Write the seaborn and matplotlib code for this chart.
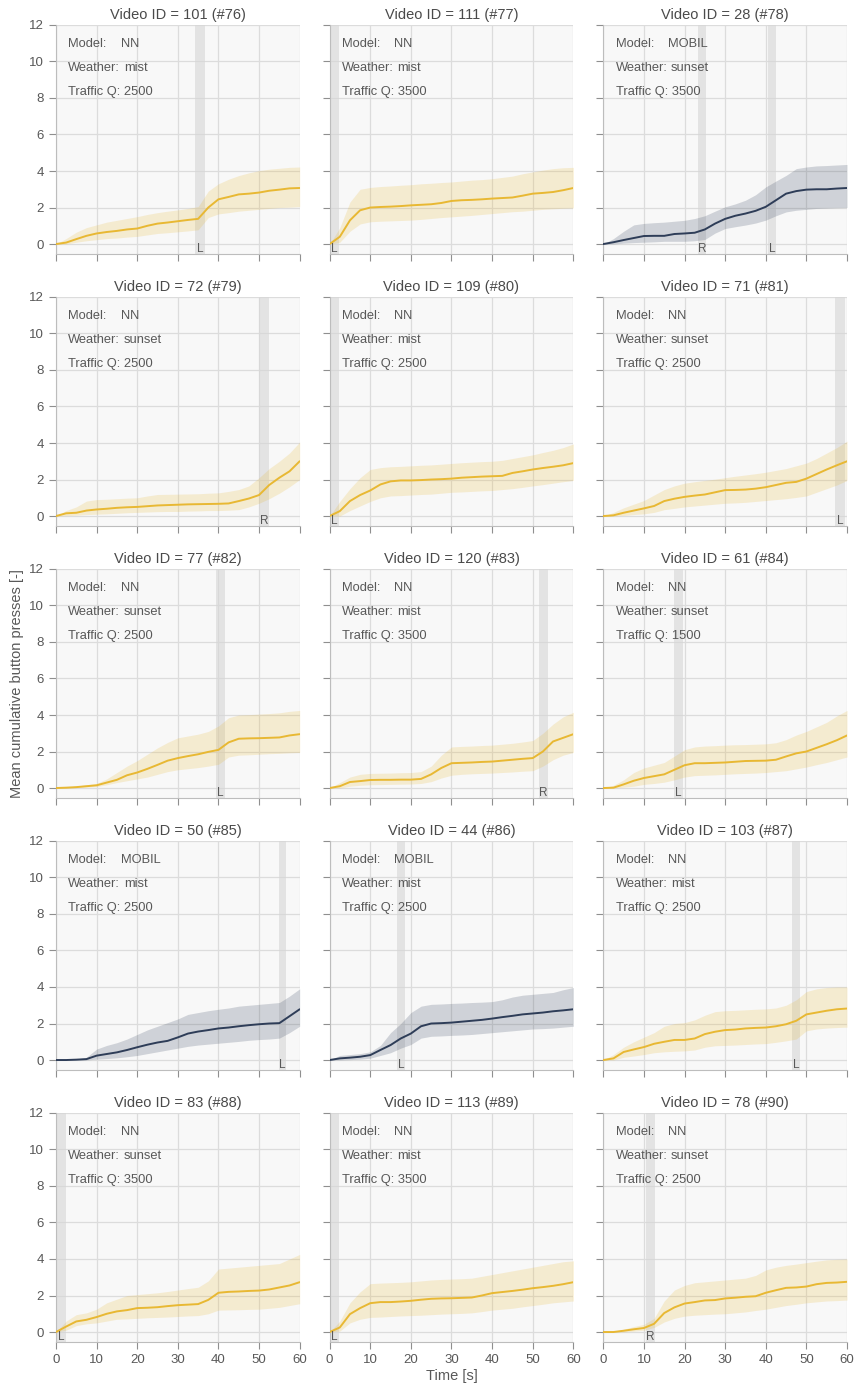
import numpy as np
import pandas as pd
import matplotlib
matplotlib.use("Agg")
import matplotlib.pyplot as plt
import matplotlib.transforms as mtransforms
import seaborn as sns

# Time grid (s) shared by all videos
time_s = [0, 2.5, 5, 7.5, 10, 12.5, 15, 17.5, 20, 22.5, 25, 27.5, 30,
          32.5, 35, 37.5, 40, 42.5, 45, 47.5, 50, 52.5, 55, 57.5, 60]

video_ids = [101, 111, 28, 72, 109, 71, 77, 120, 61, 50, 44, 103, 83, 113, 78]
video_nums = list(range(76, 91))
models = ["NN", "NN", "MOBIL", "NN", "NN", "NN", "NN", "NN", "NN",
          "MOBIL", "MOBIL", "NN", "NN", "NN", "NN"]
weathers = ["mist", "mist", "sunset", "sunset", "mist", "sunset", "sunset", "mist",
            "sunset", "mist", "mist", "mist", "sunset", "mist", "sunset"]
traffic_q = [2500, 3500, 3500, 2500, 2500, 2500, 2500, 3500, 1500,
             2500, 2500, 2500, 3500, 3500, 2500]

# Mean cumulative presses per video
mean_presses = [
    [0, .08, .27, .45, .58, .66, .72, .80, .85, 1.0, 1.12, 1.18, 1.25, 1.32, 1.38, 2.0, 2.45, 2.58, 2.72, 2.76, 2.82, 2.92, 2.98, 3.05, 3.07],
    [0, .4, 1.3, 1.85, 2.0, 2.03, 2.05, 2.08, 2.12, 2.15, 2.18, 2.25, 2.36, 2.4, 2.42, 2.45, 2.49, 2.52, 2.55, 2.65, 2.76, 2.8, 2.85, 2.95, 3.07],
    [0, .1, .22, .33, .44, .45, .45, .55, .58, .62, .8, 1.12, 1.38, 1.55, 1.67, 1.82, 2.04, 2.4, 2.76, 2.9, 2.98, 3.0, 3.0, 3.04, 3.07],
    [0, .15, .18, .3, .36, .4, .45, .48, .5, .54, .58, .6, .62, .64, .65, .66, .67, .69, .82, .96, 1.15, 1.7, 2.1, 2.45, 3.0],
    [0, .27, .82, 1.15, 1.4, 1.73, 1.9, 1.95, 1.95, 1.97, 2.0, 2.02, 2.05, 2.1, 2.13, 2.16, 2.18, 2.2, 2.36, 2.45, 2.55, 2.63, 2.7, 2.78, 2.9],
    [0, .04, .18, .3, .42, .55, .82, .95, 1.05, 1.12, 1.18, 1.3, 1.42, 1.43, 1.45, 1.5, 1.58, 1.7, 1.82, 1.87, 2.05, 2.3, 2.55, 2.78, 3.0],
    [0, .02, .05, .1, .15, .3, .45, .7, .85, 1.05, 1.27, 1.5, 1.64, 1.75, 1.85, 1.98, 2.09, 2.5, 2.7, 2.72, 2.73, 2.75, 2.77, 2.88, 2.95],
    [0, .1, .33, .38, .44, .45, .45, .46, .46, .5, .75, 1.1, 1.36, 1.38, 1.4, 1.43, 1.45, 1.5, 1.55, 1.6, 1.64, 2.0, 2.55, 2.75, 2.95],
    [0, .02, .2, .4, .55, .65, .75, 1.0, 1.25, 1.36, 1.36, 1.38, 1.4, 1.44, 1.48, 1.49, 1.5, 1.55, 1.73, 1.9, 2.0, 2.2, 2.4, 2.62, 2.88],
    [0, 0, .02, .05, .24, .33, .42, .55, .7, .84, .96, 1.05, 1.24, 1.45, 1.56, 1.64, 1.73, 1.78, 1.85, 1.91, 1.96, 2.0, 2.02, 2.4, 2.78],
    [0, .09, .13, .18, .27, .55, .82, 1.18, 1.45, 1.85, 2.0, 2.02, 2.05, 2.1, 2.15, 2.2, 2.27, 2.35, 2.42, 2.5, 2.55, 2.6, 2.67, 2.72, 2.78],
    [0, .09, .44, .58, .71, .89, 1.0, 1.1, 1.1, 1.18, 1.42, 1.55, 1.64, 1.67, 1.73, 1.76, 1.78, 1.85, 1.96, 2.15, 2.5, 2.6, 2.7, 2.78, 2.82],
    [0, .3, .58, .67, .82, 1.0, 1.13, 1.2, 1.31, 1.33, 1.36, 1.42, 1.47, 1.5, 1.53, 1.76, 2.15, 2.2, 2.22, 2.25, 2.27, 2.33, 2.44, 2.55, 2.73],
    [0, .25, .98, 1.31, 1.58, 1.64, 1.64, 1.67, 1.71, 1.77, 1.82, 1.84, 1.85, 1.87, 1.89, 2.0, 2.13, 2.19, 2.25, 2.32, 2.4, 2.46, 2.53, 2.62, 2.73],
    [0, 0, .07, .15, .22, .45, 1.04, 1.35, 1.56, 1.64, 1.73, 1.75, 1.84, 1.88, 1.93, 1.96, 2.15, 2.29, 2.42, 2.44, 2.49, 2.62, 2.69, 2.71, 2.75],
]

# Upper bound of the 95% confidence band
ci_upper = [
    [0, .3, .65, .9, 1.05, 1.2, 1.3, 1.4, 1.5, 1.62, 1.72, 1.8, 1.87, 1.95, 2.05, 2.9, 3.3, 3.55, 3.75, 3.9, 4.02, 4.1, 4.15, 4.2, 4.22],
    [0, .9, 2.3, 3.0, 3.1, 3.15, 3.18, 3.22, 3.25, 3.3, 3.33, 3.37, 3.4, 3.45, 3.5, 3.53, 3.58, 3.65, 3.72, 3.85, 3.95, 4.05, 4.13, 4.18, 4.2],
    [0, .3, .7, 1.05, 1.13, 1.17, 1.2, 1.25, 1.3, 1.4, 1.55, 1.8, 2.04, 2.2, 2.4, 2.7, 3.13, 3.45, 3.76, 4.13, 4.22, 4.28, 4.3, 4.33, 4.36],
    [0, .3, .5, .82, .9, .92, .95, .98, 1.0, 1.1, 1.18, 1.19, 1.2, 1.21, 1.22, 1.25, 1.27, 1.35, 1.45, 1.65, 2.1, 2.6, 3.0, 3.45, 4.05],
    [0, .8, 1.5, 2.1, 2.55, 2.65, 2.7, 2.72, 2.75, 2.78, 2.8, 2.84, 2.88, 2.92, 2.95, 2.98, 3.0, 3.05, 3.15, 3.25, 3.35, 3.48, 3.6, 3.75, 3.95],
    [0, .2, .45, .65, .85, 1.15, 1.45, 1.65, 1.8, 1.88, 1.95, 2.02, 2.1, 2.18, 2.25, 2.32, 2.4, 2.5, 2.6, 2.75, 2.9, 3.15, 3.45, 3.75, 4.1],
    [0, .05, .1, .18, .25, .5, .85, 1.2, 1.5, 1.85, 2.2, 2.5, 2.75, 2.85, 2.95, 3.1, 3.4, 3.85, 4.0, 4.02, 4.05, 4.08, 4.12, 4.2, 4.25],
    [0, .3, .6, .75, .8, .81, .82, .84, .85, .9, 1.2, 1.8, 2.25, 2.28, 2.3, 2.33, 2.35, 2.4, 2.45, 2.52, 2.6, 3.0, 3.5, 3.9, 4.15],
    [0, .15, .45, .85, 1.1, 1.25, 1.4, 1.75, 2.1, 2.25, 2.3, 2.32, 2.35, 2.37, 2.38, 2.4, 2.42, 2.48, 2.65, 2.9, 3.1, 3.35, 3.6, 3.95, 4.25],
    [0, 0, .05, .15, .6, .8, .95, 1.15, 1.4, 1.65, 1.85, 2.05, 2.25, 2.5, 2.6, 2.7, 2.78, 2.85, 2.95, 3.0, 3.05, 3.1, 3.15, 3.5, 3.9],
    [0, .25, .3, .35, .45, .8, 1.5, 2.0, 2.6, 2.95, 3.05, 3.07, 3.1, 3.12, 3.15, 3.17, 3.2, 3.3, 3.45, 3.55, 3.6, 3.65, 3.7, 3.85, 3.97],
    [0, .3, .7, 1.0, 1.25, 1.5, 1.85, 2.0, 2.05, 2.2, 2.45, 2.65, 2.7, 2.72, 2.75, 2.78, 2.8, 2.85, 3.0, 3.3, 3.75, 3.9, 3.97, 4.0, 4.0],
    [0, .6, .95, 1.05, 1.25, 1.6, 1.8, 2.0, 2.05, 2.1, 2.15, 2.22, 2.3, 2.38, 2.45, 2.8, 3.45, 3.5, 3.55, 3.6, 3.65, 3.7, 3.75, 4.0, 4.25],
    [0, .6, 1.6, 2.2, 2.65, 2.68, 2.7, 2.72, 2.75, 2.8, 2.85, 2.88, 2.9, 2.92, 2.95, 3.05, 3.15, 3.25, 3.35, 3.45, 3.55, 3.65, 3.75, 3.85, 3.9],
    [0, .05, .15, .3, .42, .75, 1.7, 2.3, 2.55, 2.7, 2.75, 2.8, 2.85, 2.9, 2.95, 3.1, 3.4, 3.55, 3.65, 3.72, 3.8, 3.88, 3.95, 3.98, 4.0],
]

# Lower bound of the 95% confidence band
ci_lower = [
    [0, 0, .1, .18, .24, .3, .33, .38, .42, .5, .58, .62, .67, .72, .78, 1.45, 1.65, 1.72, 1.8, 1.85, 1.9, 1.95, 2.0, 2.02, 2.05],
    [0, .1, .7, 1.1, 1.22, 1.25, 1.27, 1.29, 1.31, 1.35, 1.4, 1.45, 1.49, 1.53, 1.57, 1.62, 1.67, 1.72, 1.77, 1.8, 1.85, 1.9, 1.93, 1.96, 1.98],
    [0, 0, .05, .08, .1, .12, .15, .15, .15, .18, .25, .6, .85, .95, 1.04, 1.15, 1.31, 1.55, 1.76, 1.85, 1.9, 1.95, 1.97, 1.99, 2.0],
    [0, .02, .05, .08, .1, .12, .15, .18, .2, .22, .24, .25, .25, .27, .28, .3, .3, .32, .35, .5, .7, .95, 1.25, 1.6, 2.0],
    [0, 0, .3, .55, .8, 1.0, 1.1, 1.12, 1.15, 1.18, 1.2, 1.25, 1.3, 1.32, 1.35, 1.38, 1.4, 1.45, 1.5, 1.57, 1.65, 1.72, 1.8, 1.88, 1.95],
    [0, 0, .03, .08, .12, .2, .35, .42, .5, .55, .6, .65, .7, .72, .75, .8, .85, .9, .95, 1.02, 1.1, 1.3, 1.5, 1.7, 1.95],
    [0, 0, .02, .05, .08, .18, .3, .4, .5, .6, .75, .9, 1.0, 1.06, 1.12, 1.2, 1.3, 1.7, 1.8, 1.82, 1.85, 1.88, 1.9, 1.93, 1.95],
    [0, 0, .1, .15, .18, .19, .2, .21, .22, .25, .35, .55, .7, .75, .78, .8, .82, .85, .88, .92, .95, 1.2, 1.55, 1.8, 1.95],
    [0, 0, .05, .1, .2, .25, .32, .45, .6, .68, .7, .72, .75, .78, .8, .82, .85, .9, .95, 1.05, 1.15, 1.28, 1.4, 1.55, 1.7],
    [0, 0, 0, 0, .05, .08, .12, .18, .25, .35, .45, .55, .65, .75, .82, .87, .92, .97, 1.02, 1.08, 1.12, 1.15, 1.2, 1.5, 1.85],
    [0, 0, .02, .05, .1, .25, .4, .65, .85, 1.2, 1.3, 1.32, 1.35, 1.37, 1.4, 1.45, 1.5, 1.55, 1.6, 1.65, 1.7, 1.72, 1.75, 1.8, 1.85],
    [0, 0, .15, .22, .3, .4, .45, .48, .5, .55, .7, .78, .8, .82, .85, .88, .9, .97, 1.05, 1.15, 1.6, 1.7, 1.75, 1.78, 1.8],
    [0, .1, .35, .45, .5, .6, .7, .72, .75, .78, .8, .82, .85, .88, .9, 1.0, 1.2, 1.21, 1.22, 1.24, 1.25, 1.3, 1.35, 1.45, 1.55],
    [0, .05, .5, .7, .8, .82, .85, .88, .9, .92, .95, .98, 1.0, 1.02, 1.05, 1.12, 1.2, 1.25, 1.3, 1.38, 1.45, 1.52, 1.6, 1.65, 1.7],
    [0, 0, 0, .05, .1, .25, .55, .75, .87, .92, .95, .98, 1.0, 1.05, 1.1, 1.18, 1.25, 1.35, 1.45, 1.52, 1.6, 1.65, 1.7, 1.72, 1.75],
]

# Lane-change events: (start s, end s, direction)
events = [
    [(34.2, 36.7, "L")],
    [(0.0, 2.3, "L")],
    [(23.4, 25.4, "R"), (40.6, 42.5, "L")],
    [(49.9, 52.5, "R")],
    [(0.0, 2.4, "L")],
    [(57.0, 59.5, "L")],
    [(39.4, 41.5, "L")],
    [(51.5, 53.8, "R")],
    [(17.3, 19.6, "L")],
    [(54.8, 56.7, "L")],
    [(16.7, 18.5, "L")],
    [(46.4, 48.4, "L")],
    [(0.1, 2.5, "L")],
    [(0.0, 2.3, "L")],
    [(10.5, 12.8, "R")],
]

model_colors = {"NN": "#e8b833", "MOBIL": "#2e3d58"}
text_color = "#585858"

sns.set_theme(style="ticks")
plt.rcParams.update({
    "font.family": ["Liberation Sans", "DejaVu Sans"],
    "axes.facecolor": "#f8f8f8",
    "axes.edgecolor": "#bdbdbd",
    "axes.linewidth": 0.8,
    "axes.labelcolor": text_color,
    "xtick.color": "#8f8f8f",
    "ytick.color": "#8f8f8f",
    "xtick.labelcolor": text_color,
    "ytick.labelcolor": text_color,
    "xtick.labelsize": 9.5,
    "ytick.labelsize": 9.5,
    "xtick.major.size": 5,
    "ytick.major.size": 5,
    "xtick.major.width": 0.8,
    "ytick.major.width": 0.8,
    "grid.color": "#dcdcdc",
    "grid.linewidth": 0.9,
})

fig, axes = plt.subplots(5, 3, figsize=(8.56, 13.86), dpi=100, sharex=True, sharey=True)
fig.subplots_adjust(left=0.0654, right=0.9895, top=0.982, bottom=0.0317,
                    wspace=0.123, hspace=0.187)

info_size = 9.3

for i, ax in enumerate(axes.flat):
    color = model_colors[models[i]]
    df = pd.DataFrame({"t": time_s, "mean": mean_presses[i],
                       "lo": ci_lower[i], "hi": ci_upper[i]})
    ax.grid(True, zorder=0)
    ax.set_axisbelow(True)
    for start, end, side in events[i]:
        ax.axvspan(start, end, color="#d6d6d6", alpha=0.6, lw=0, zorder=1)
        ax.text((start + end) / 2, -0.27, side, ha="center", va="center",
                fontsize=8.5, color=text_color, zorder=5)
    ax.fill_between(df["t"], df["lo"], df["hi"], color=color, alpha=0.2,
                    lw=0, zorder=2)
    sns.lineplot(data=df, x="t", y="mean", ax=ax, color=color, lw=1.4, zorder=3)

    trans = mtransforms.blended_transform_factory(ax.transAxes, ax.transData)
    ax.text(0.05, 10.95, "Model:", transform=trans, fontsize=info_size, color=text_color, va="center")
    ax.text(0.265, 10.95, models[i], transform=trans, fontsize=info_size, color=text_color, va="center")
    ax.text(0.05, 9.65, "Weather:", transform=trans, fontsize=info_size, color=text_color, va="center")
    ax.text(0.278, 9.65, weathers[i], transform=trans, fontsize=info_size, color=text_color, va="center")
    ax.text(0.05, 8.35, f"Traffic Q: {traffic_q[i]}", transform=trans, fontsize=info_size,
            color=text_color, va="center")

    ax.set_title(f"Video ID = {video_ids[i]} (#{video_nums[i]})", fontsize=10.5,
                 color="#4a4a4a", pad=4)
    ax.set_xlim(0, 60)
    ax.set_ylim(-0.55, 12)
    ax.set_xticks(range(0, 61, 10))
    ax.set_yticks(range(0, 13, 2))
    ax.set_xlabel("")
    ax.set_ylabel("")
    sns.despine(ax=ax)

axes[4, 1].set_xlabel("Time [s]", fontsize=10.5, labelpad=2)
axes[2, 0].set_ylabel("Mean cumulative button presses [-]", fontsize=10.5, labelpad=4)

fig.savefig("out.png", dpi=100)
